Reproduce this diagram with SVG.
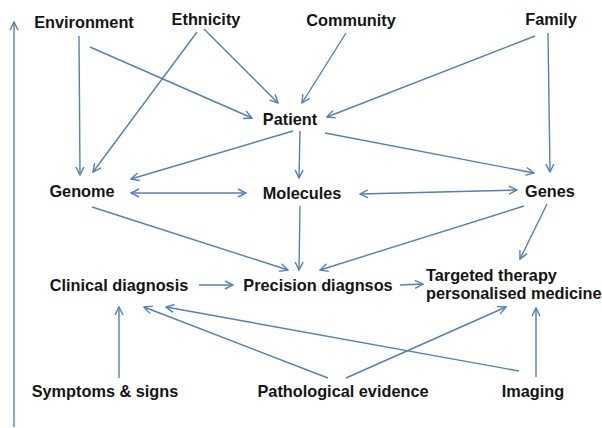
<svg xmlns="http://www.w3.org/2000/svg" width="602" height="428" viewBox="0 0 602 428">
<defs>
<style>
text{font-family:"Liberation Sans",Arial,sans-serif;font-weight:bold;font-size:16.3px;fill:#151515}
.c line{stroke:#4f81bd;stroke-width:1.4;fill:none;marker-end:url(#ah)}
.c line.d{marker-start:url(#ah)}
</style>
<marker id="ah" viewBox="0 0 10 10" refX="9" refY="5" markerWidth="10" markerHeight="10" markerUnits="userSpaceOnUse" orient="auto-start-reverse">
<path d="M1,1 L9,5 L1,9" fill="none" stroke="#4f81bd" stroke-width="1.4"/>
</marker>
</defs>
<rect width="602" height="428" fill="#fff"/>
<g class="c" id="connectors">
<line x1="14" y1="427" x2="14" y2="22"/>
<line x1="79" y1="36" x2="80" y2="175"/>
<line x1="90" y1="47" x2="252" y2="118"/>
<line x1="197" y1="32" x2="93" y2="172"/>
<line x1="204" y1="29" x2="278" y2="103"/>
<line x1="346" y1="33" x2="302" y2="103"/>
<line x1="535" y1="36" x2="327" y2="117"/>
<line x1="548" y1="33" x2="550" y2="172"/>
<line x1="293" y1="131" x2="131" y2="179"/>
<line x1="300" y1="131" x2="299" y2="178"/>
<line x1="325" y1="133" x2="534" y2="173"/>
<line class="d" x1="131" y1="193" x2="246" y2="193"/>
<line class="d" x1="360" y1="194" x2="517" y2="190"/>
<line x1="92" y1="207" x2="288" y2="270"/>
<line x1="300" y1="206" x2="299" y2="270"/>
<line x1="524" y1="206" x2="320" y2="270"/>
<line x1="547" y1="204" x2="520" y2="259"/>
<line x1="199" y1="285" x2="233" y2="285"/>
<line x1="400" y1="285" x2="423" y2="284"/>
<line x1="119" y1="378" x2="119" y2="307"/>
<line x1="328" y1="378" x2="144" y2="307"/>
<line x1="519" y1="371" x2="166" y2="307"/>
<line x1="346" y1="378" x2="506" y2="307"/>
<line x1="536" y1="377" x2="536" y2="308"/>
</g>
<g id="environment"><text x="84" y="28" text-anchor="middle">Environment</text></g>
<g id="ethnicity"><text x="206" y="25" text-anchor="middle">Ethnicity</text></g>
<g id="community"><text x="351" y="26" text-anchor="middle">Community</text></g>
<g id="family"><text x="551" y="25" text-anchor="middle">Family</text></g>
<g id="patient"><text x="290" y="125" text-anchor="middle">Patient</text></g>
<g id="genome"><text x="82" y="197" text-anchor="middle">Genome</text></g>
<g id="molecules"><text x="302" y="199" text-anchor="middle">Molecules</text></g>
<g id="genes"><text x="550" y="197" text-anchor="middle">Genes</text></g>
<g id="clinical"><text x="119" y="291" text-anchor="middle">Clinical diagnosis</text></g>
<g id="precision"><text x="318" y="291" text-anchor="middle">Precision diagnsos</text></g>
<g id="targeted"><text x="426" y="281">Targeted therapy</text><text x="426" y="299">personalised medicine</text></g>
<g id="symptoms"><text x="105" y="397" text-anchor="middle">Symptoms &amp; signs</text></g>
<g id="pathological"><text x="343" y="397" text-anchor="middle">Pathological evidence</text></g>
<g id="imaging"><text x="533" y="397" text-anchor="middle">Imaging</text></g>
</svg>
